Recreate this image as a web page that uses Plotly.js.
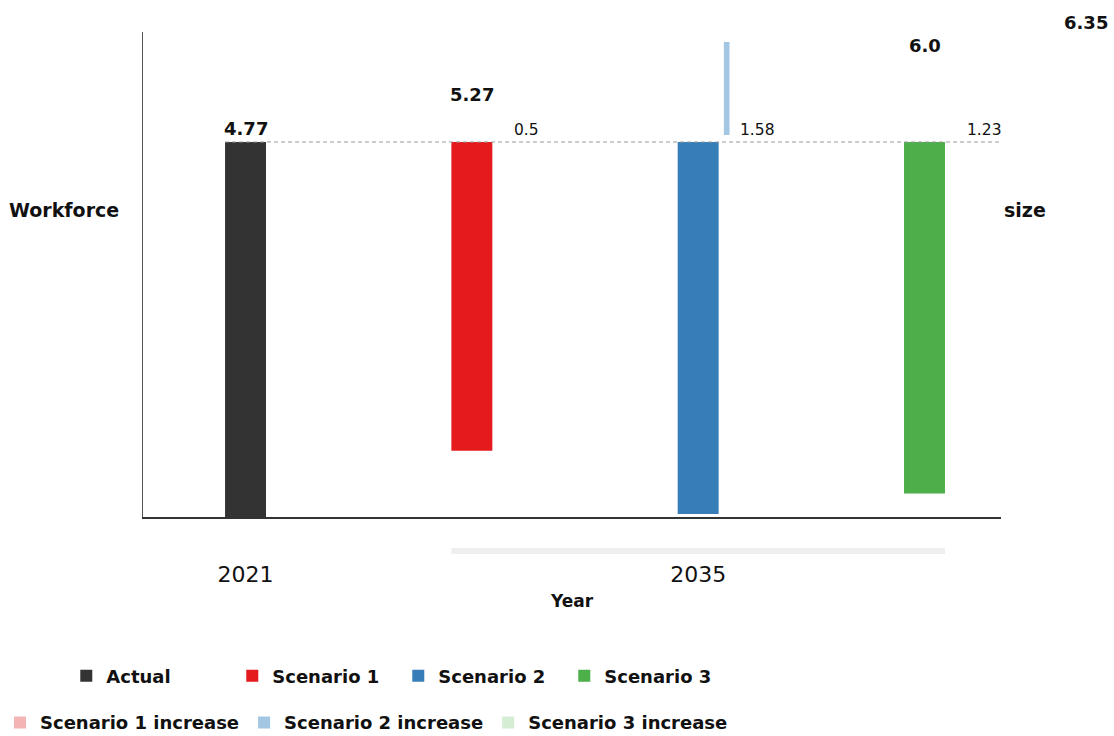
<!DOCTYPE html>
<html>
<head>
<meta charset="utf-8">
<script src="https://cdn.plot.ly/plotly-3.0.1.min.js"></script>
<style>
  html, body { margin: 0; padding: 0; background: #ffffff; }
  #chart { width: 1114px; height: 736px; }
</style>
</head>
<body>
<div id="chart"></div>
<script>
// Workforce size: 2021 actual against three 2035 scenarios
const years = ['2021', '2035'];
const seriesNames = ['Actual', 'Scenario 1', 'Scenario 2', 'Scenario 3'];
const totals = [4.77, 5.27, 6.35, 6.0];
const increaseNames = ['Scenario 1 increase', 'Scenario 2 increase', 'Scenario 3 increase'];
const increases = [0.5, 1.58, 1.23];
const increaseDrawn = [false, true, false];
const seriesColors = ['#333333', '#e41a1c', '#377eb8', '#4daf4a'];
const increaseColors = ['#f4b3b4', '#a3c6e3', '#d4edd3'];

// geometry helpers (slot index per series, 2035 tick sits in the middle of its scenarios)
const baseline = totals[0];
const slots = seriesNames.map((_, i) => i);
const scenarioSlots = slots.slice(1);
const yearTicks = [0, scenarioSlots.reduce((a, b) => a + b, 0) / scenarioSlots.length];
const BAR_W = 0.181;
const INC_W = 0.025;
const INC_OFFSET = 0.126;
const X_RANGE = [-0.453, 3.338];

const FONT = 'DejaVu Sans, Verdana, sans-serif';

const traces = [];

// actual bar, measured from zero
traces.push({
  type: 'bar', name: seriesNames[0], x: [slots[0]], y: [totals[0]],
  width: BAR_W, marker: { color: seriesColors[0] },
  xaxis: 'x', yaxis: 'y', legend: 'legend', hoverinfo: 'skip'
});

// scenario bars hang down from the 2021 level
for (let i = 1; i < seriesNames.length; i++) {
  traces.push({
    type: 'bar', name: seriesNames[i], x: [slots[i]], y: [totals[i]],
    width: BAR_W, marker: { color: seriesColors[i] },
    xaxis: 'x', yaxis: 'y2', legend: 'legend', hoverinfo: 'skip'
  });
}

// increase slivers stacked on the 2021 level
for (let k = 0; k < increases.length; k++) {
  const drawn = increaseDrawn[k];
  traces.push({
    type: 'bar', name: increaseNames[k],
    x: [scenarioSlots[k] + INC_OFFSET],
    y: [drawn ? increases[k] : null],
    base: [baseline],
    width: INC_W, marker: { color: increaseColors[k] },
    xaxis: 'x', yaxis: 'y3', legend: 'legend2', hoverinfo: 'skip'
  });
}

const annotations = [];

// bold total labels
for (let i = 0; i < totals.length; i++) {
  if (i === 2) continue;
  annotations.push({
    x: slots[i], y: totals[i], xref: 'x', yref: 'y4',
    text: String(i === 3 ? totals[i].toFixed(1) : totals[i]),
    showarrow: false, xanchor: 'center', yanchor: 'middle',
    font: { family: FONT, size: 18, weight: 'bold', color: '#111111' }
  });
}
// Scenario 2 total sits out in the right margin
annotations.push({
  x: 1.099, y: 1.0206, xref: 'paper', yref: 'paper',
  text: String(totals[2]), showarrow: false, xanchor: 'center', yanchor: 'middle',
  font: { family: FONT, size: 18, weight: 'bold', color: '#111111' }
});

// increase labels along the 2021 level
for (let k = 0; k < increases.length; k++) {
  annotations.push({
    x: scenarioSlots[k] + 0.178, y: baseline, xref: 'x', yref: 'y',
    text: String(increases[k]), showarrow: false, xanchor: 'left', yanchor: 'bottom',
    yshift: 1,
    font: { family: FONT, size: 15.5, color: '#111111' }
  });
}

// split axis caption
annotations.push({
  x: -0.0915, y: 0.633, xref: 'paper', yref: 'paper', text: 'Workforce',
  showarrow: false, xanchor: 'center', yanchor: 'middle',
  font: { family: FONT, size: 19, weight: 'bold', color: '#111111' }
});
annotations.push({
  x: 1.028, y: 0.633, xref: 'paper', yref: 'paper', text: 'size',
  showarrow: false, xanchor: 'center', yanchor: 'middle',
  font: { family: FONT, size: 19, weight: 'bold', color: '#111111' }
});

const shapes = [
  // 2021 reference level
  {
    type: 'line', xref: 'x', yref: 'y',
    x0: slots[0] - BAR_W / 2, x1: X_RANGE[1], y0: baseline, y1: baseline,
    line: { color: '#9a9a9a', width: 1, dash: '4px,3px' }, layer: 'above'
  },
  // bracket under the 2035 scenarios
  {
    type: 'rect', xref: 'x', yref: 'paper',
    x0: scenarioSlots[0] - BAR_W / 2, x1: scenarioSlots[scenarioSlots.length - 1] + BAR_W / 2,
    y0: -0.0763, y1: -0.0639,
    fillcolor: '#eeeeee', line: { width: 0 }, layer: 'below'
  }
];

const hiddenAxis = { overlaying: 'y', visible: false, showgrid: false, zeroline: false, fixedrange: true };

const layout = {
  width: 1114, height: 736,
  margin: { l: 143, r: 113, t: 32, b: 219 },
  paper_bgcolor: '#ffffff', plot_bgcolor: '#ffffff',
  barmode: 'overlay',
  showlegend: true,
  font: { family: FONT, color: '#111111' },
  xaxis: {
    range: X_RANGE, tickmode: 'array', tickvals: yearTicks, ticktext: years,
    showgrid: false, zeroline: false, showline: true, linecolor: '#333333', linewidth: 2,
    ticks: '', ticklabelstandoff: 37,
    tickfont: { family: FONT, size: 22, color: '#111111' },
    title: { text: 'Year', standoff: 9, font: { family: FONT, size: 17, weight: 'bold', color: '#111111' } },
    automargin: false
  },
  yaxis: {
    range: [0, 6.169], showgrid: false, zeroline: false, showticklabels: false, ticks: '',
    showline: true, linecolor: '#555555', linewidth: 1, automargin: false
  },
  yaxis2: Object.assign({ range: [6.401, -1.878] }, hiddenAxis),
  yaxis3: Object.assign({ range: [-1.719, 6.520] }, hiddenAxis),
  yaxis4: Object.assign({ range: [-0.997, 6.194] }, hiddenAxis),
  legend: {
    orientation: 'h', xref: 'container', yref: 'container',
    x: 0.0595, y: 0.0815, xanchor: 'left', yanchor: 'middle',
    entrywidth: 121, entrywidthmode: 'pixels',
    font: { family: FONT, size: 18, weight: 'bold', color: '#111111' },
    bgcolor: 'rgba(0,0,0,0)'
  },
  legend2: {
    orientation: 'h', xref: 'container', yref: 'container',
    x: 0.0, y: 0.018, xanchor: 'left', yanchor: 'middle',
    font: { family: FONT, size: 18, weight: 'bold', color: '#111111' },
    bgcolor: 'rgba(0,0,0,0)'
  },
  annotations: annotations,
  shapes: shapes
};

Plotly.newPlot('chart', traces, layout, { displayModeBar: false, responsive: false });
</script>
</body>
</html>
